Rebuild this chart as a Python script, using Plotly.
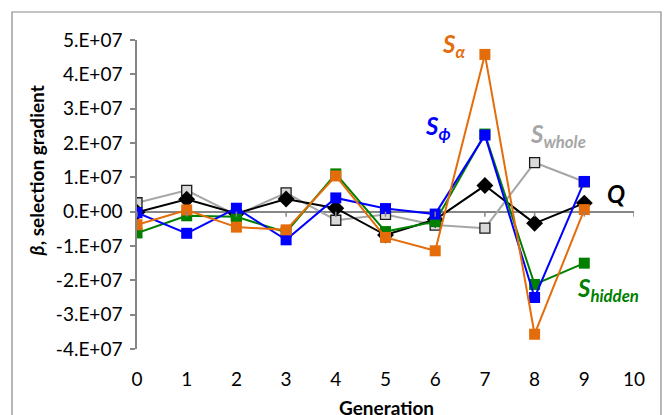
import plotly.graph_objects as go

# Selection gradients per generation
generation = [0, 1, 2, 3, 4, 5, 6, 7, 8, 9]
s_whole = [2.6e6, 6.2e6, -1.0e6, 5.5e6, -2.5e6, -0.8e6, -3.9e6, -4.8e6, 14.3e6, 8.7e6]
q_vals = [-0.2e6, 3.6e6, -0.5e6, 3.7e6, 1.0e6, -6.8e6, -2.3e6, 7.6e6, -3.4e6, 2.5e6]
s_hidden = [-6.2e6, -1.2e6, -1.5e6, -6.0e6, 11.0e6, -5.8e6, -2.9e6, 22.6e6, -21.2e6, -15.0e6]
s_phi = [-0.3e6, -6.3e6, 1.0e6, -8.2e6, 4.0e6, 0.9e6, -0.7e6, 22.3e6, -25.0e6, 8.8e6]
s_alpha = [-3.8e6, 0.5e6, -4.5e6, -5.3e6, 10.4e6, -7.5e6, -11.4e6, 45.8e6, -35.7e6, 0.6e6]

y_ticks = [-4e7, -3e7, -2e7, -1e7, 0, 1e7, 2e7, 3e7, 4e7, 5e7]
y_tick_text = ["-4.E+07", "-3.E+07", "-2.E+07", "-1.E+07", "0.E+00",
               "1.E+07", "2.E+07", "3.E+07", "4.E+07", "5.E+07"]
x_ticks = [0, 1, 2, 3, 4, 5, 6, 7, 8, 9, 10]

ORANGE = "#E46C0A"
BLUE = "#0000FF"
GREEN = "#008000"
GRAY = "#A6A6A6"
AXIS = "#868686"
FONT = "Lato"

fig = go.Figure()

fig.add_trace(go.Scatter(
    x=generation, y=s_whole, mode="lines+markers", name="S_whole",
    line=dict(color=GRAY, width=2),
    marker=dict(symbol="square", size=10, color="#D9D9D9",
                line=dict(color="#1a1a1a", width=1.3))))
fig.add_trace(go.Scatter(
    x=generation, y=q_vals, mode="lines+markers", name="Q",
    line=dict(color="black", width=2),
    marker=dict(symbol="diamond", size=13, color="black")))
fig.add_trace(go.Scatter(
    x=generation, y=s_hidden, mode="lines+markers", name="S_hidden",
    line=dict(color=GREEN, width=2),
    marker=dict(symbol="square", size=11, color=GREEN)))
fig.add_trace(go.Scatter(
    x=generation, y=s_phi, mode="lines+markers", name="S_phi",
    line=dict(color=BLUE, width=2),
    marker=dict(symbol="square", size=11, color=BLUE)))
fig.add_trace(go.Scatter(
    x=generation, y=s_alpha, mode="lines+markers", name="S_alpha",
    line=dict(color=ORANGE, width=2),
    marker=dict(symbol="square", size=11, color=ORANGE)))

# Small downward tick marks along the zero line
shapes = [
    dict(type="line", xref="x", yref="y", ysizemode="pixel", yanchor=0,
         x0=t, x1=t, y0=0, y1=-5, line=dict(color=AXIS, width=1.5))
    for t in x_ticks
]
# Chart frame
shapes.append(dict(type="rect", xref="paper", yref="paper",
                   x0=-0.2515, x1=1.0543, y0=-0.4, y1=1.0906,
                   line=dict(color="#888888", width=1.2), layer="below"))

def series_label(text, sub, color, x, y):
    body = f"<b><i>{text}</i></b>"
    if sub:
        body += f"<sub><b><i>{sub}</i></b></sub>"
    return dict(text=body, x=x, y=y, xref="x", yref="y", showarrow=False,
                xanchor="center", yanchor="middle",
                font=dict(family=FONT, size=24, color=color))

annotations = [
    series_label("S", "α", ORANGE, 6.36, 4.85e7),
    series_label("S", "ϕ", BLUE, 6.06, 2.44e7),
    series_label("S", "whole", GRAY, 8.47, 2.23e7),
    series_label("Q", "", "black", 9.64, 0.52e7),
    series_label("S", "hidden", GREEN, 9.48, -2.28e7),
    dict(text="<b><i>β</i>, selection gradient</b>", textangle=-90,
         x=-0.203, y=0.575, xref="paper", yref="paper", showarrow=False,
         xanchor="center", yanchor="middle",
         font=dict(family=FONT, size=19, color="black")),
    dict(text="<b>Generation</b>", x=0.502, y=-0.19, xref="paper", yref="paper",
         xanchor="center", yanchor="middle",
         showarrow=False, font=dict(family=FONT, size=19, color="black")),
]

fig.update_layout(
    width=665, height=415,
    margin=dict(l=137, r=31, t=40, b=66),
    paper_bgcolor="white", plot_bgcolor="white",
    showlegend=False,
    font=dict(family=FONT, size=19, color="black"),
    shapes=shapes,
    annotations=annotations,
    xaxis=dict(range=[0, 10], tickvals=x_ticks, ticks="", showline=False,
               showgrid=False, zeroline=False, ticklabelstandoff=17,
               tickfont=dict(family=FONT, size=19, color="black")),
    yaxis=dict(range=[-4e7, 5e7], tickvals=y_ticks, ticktext=y_tick_text,
               ticks="outside", ticklen=5, tickcolor=AXIS, tickwidth=1.5,
               showline=True, linecolor=AXIS, linewidth=1.5,
               showgrid=False, zeroline=True, zerolinecolor=AXIS,
               zerolinewidth=1.5, ticklabelstandoff=4,
               tickfont=dict(family=FONT, size=19, color="black")),
)

fig.write_html("out.html")
